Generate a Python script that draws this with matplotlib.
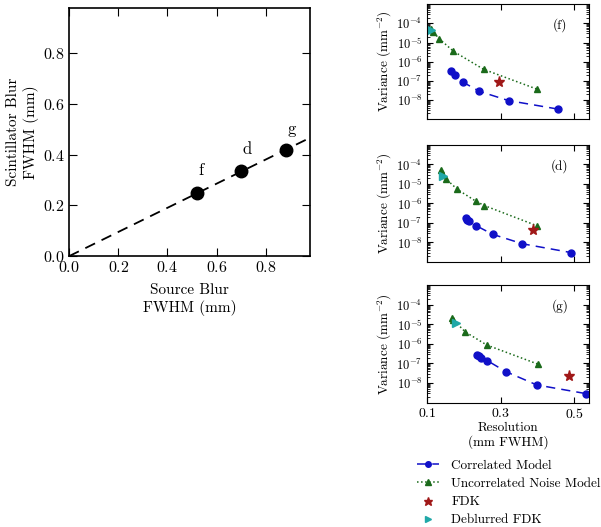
import matplotlib
matplotlib.use("Agg")
import matplotlib.pyplot as plt
from matplotlib.ticker import LogLocator, NullFormatter

plt.rcParams['font.family'] = 'serif'
plt.rcParams['font.serif'] = ['cmr10']
plt.rcParams['mathtext.fontset'] = 'cm'
plt.rcParams['axes.formatter.use_mathtext'] = True
plt.rcParams['axes.unicode_minus'] = False

# panel izquierdo: desenfoque de fuente vs centelleador
fuente = [0.52, 0.70, 0.88]
centelleador = [0.25, 0.335, 0.42]
etiquetas = ['f', 'd', 'g']
pos_etiquetas = [(0.537, 0.34), (0.724, 0.42), (0.906, 0.50)]
recta_x = [0.0, 1.0]
recta_y = [0.0, 0.477]

# paneles derechos (resolucion en mm FWHM, varianza en mm^-2)
paneles = ['f', 'd', 'g']
corr_res = {
    'f': [0.164, 0.175, 0.198, 0.242, 0.321, 0.457],
    'd': [0.205, 0.209, 0.213, 0.233, 0.278, 0.359, 0.492],
    'g': [0.236, 0.242, 0.245, 0.263, 0.314, 0.398, 0.531],
}
corr_var = {
    'f': [3.2e-7, 2.0e-7, 8.3e-8, 2.8e-8, 9.3e-9, 3.3e-9],
    'd': [1.8e-7, 1.4e-7, 1.2e-7, 7.2e-8, 2.6e-8, 8.5e-9, 3.0e-9],
    'g': [2.7e-7, 2.3e-7, 2.0e-7, 1.4e-7, 3.8e-8, 8.0e-9, 2.9e-9],
}
unc_res = {
    'f': [0.110, 0.116, 0.132, 0.171, 0.253, 0.398],
    'd': [0.136, 0.142, 0.151, 0.182, 0.232, 0.255, 0.398],
    'g': [0.168, 0.171, 0.203, 0.262, 0.400],
}
unc_var = {
    'f': [4.9e-5, 3.6e-5, 1.6e-5, 3.5e-6, 4.0e-7, 3.7e-8],
    'd': [5.1e-5, 3.0e-5, 1.8e-5, 5.2e-6, 1.3e-6, 7.8e-7, 7.2e-8],
    'g': [2.2e-5, 1.7e-5, 4.1e-6, 8.7e-7, 9.4e-8],
}
fdk_res = {'f': 0.295, 'd': 0.388, 'g': 0.486}
fdk_var = {'f': 9.0e-8, 'd': 4.1e-8, 'g': 2.2e-8}
deb_res = {'f': 0.110, 'd': 0.144, 'g': 0.177}
deb_var = {'f': 4.5e-5, 'd': 2.5e-5, 'g': 1.2e-5}

fig = plt.figure(figsize=(6.01, 5.27), dpi=100)

# 1. panel izquierdo
ax = fig.add_axes([0.115, 0.514, 0.401, 0.471])
ax.plot(recta_x, recta_y, 'k--', dashes=(6, 4), lw=1.3)
ax.plot(fuente, centelleador, 'ko', ms=9)
for et, (px, py) in zip(etiquetas, pos_etiquetas):
    ax.text(px, py, et, fontsize=12, ha='center', va='center')
ax.set_xlim(0, 0.98)
ax.set_ylim(0, 0.98)
ax.set_xticks([0.0, 0.2, 0.4, 0.6, 0.8])
ax.set_yticks([0.0, 0.2, 0.4, 0.6, 0.8])
ax.tick_params(direction='in', top=True, right=True, labelsize=11.5, length=6, pad=3)
ax.set_xlabel('Source Blur\nFWHM (mm)', fontsize=11, labelpad=6)
ax.set_ylabel('Scintillator Blur\nFWHM (mm)', fontsize=11, labelpad=3)
for s in ax.spines.values():
    s.set_linewidth(1.2)

# 2. paneles derechos
alturas = [(0.774, 0.218), (0.503, 0.222), (0.236, 0.223)]
ejes = []
for i, p in enumerate(paneles):
    b, h = alturas[i]
    a = fig.add_axes([0.711, b, 0.269, h])
    ejes.append(a)
    a.set_yscale('log')
    a.plot(corr_res[p], corr_var[p], '--', color='#1010c8', marker='o', ms=5,
           dashes=(6, 4), lw=1.1, label='Correlated Model')
    a.plot(unc_res[p], unc_var[p], ':', color='#1a6a1a', marker='^', ms=5,
           lw=1.1, label='Uncorrelated Noise Model')
    a.plot([fdk_res[p]], [fdk_var[p]], '*', color='#a01818', ms=8, ls='none', label='FDK')
    a.plot([deb_res[p]], [deb_var[p]], '>', color='#20a8a8', ms=6, ls='none',
           label='Deblurred FDK')
    a.set_xlim(0.1, 0.54)
    a.set_ylim(1e-9, 1e-3)
    a.set_yticks([1e-8, 1e-7, 1e-6, 1e-5, 1e-4])
    a.yaxis.set_minor_locator(LogLocator(base=10, subs=range(2, 10), numticks=20))
    a.yaxis.set_minor_formatter(NullFormatter())
    a.set_xticks([0.1, 0.3, 0.5])
    a.tick_params(which='both', direction='in', top=True, right=True, labelsize=9)
    a.tick_params(axis='x', labelsize=10)
    a.tick_params(which='major', length=4)
    a.tick_params(which='minor', length=2)
    if i < 2:
        a.tick_params(labelbottom=False)
    a.set_ylabel('Variance (mm$^{-2}$)', fontsize=9.5, labelpad=2)
    a.text(0.82, 0.82, '(' + p + ')', transform=a.transAxes, fontsize=9.5,
           ha='center', va='center')

ejes[2].set_xlabel('Resolution\n(mm FWHM)', fontsize=9.5, labelpad=0)

# 3. leyenda
h, l = ejes[2].get_legend_handles_labels()
fig.legend(h, l, loc='upper left', bbox_to_anchor=(0.685, 0.138), frameon=False,
           numpoints=1, fontsize=9.5, handlelength=1.7, labelspacing=0.45,
           handletextpad=0.9, borderaxespad=0, markerscale=0.8)

fig.savefig('out.png', dpi=100)
